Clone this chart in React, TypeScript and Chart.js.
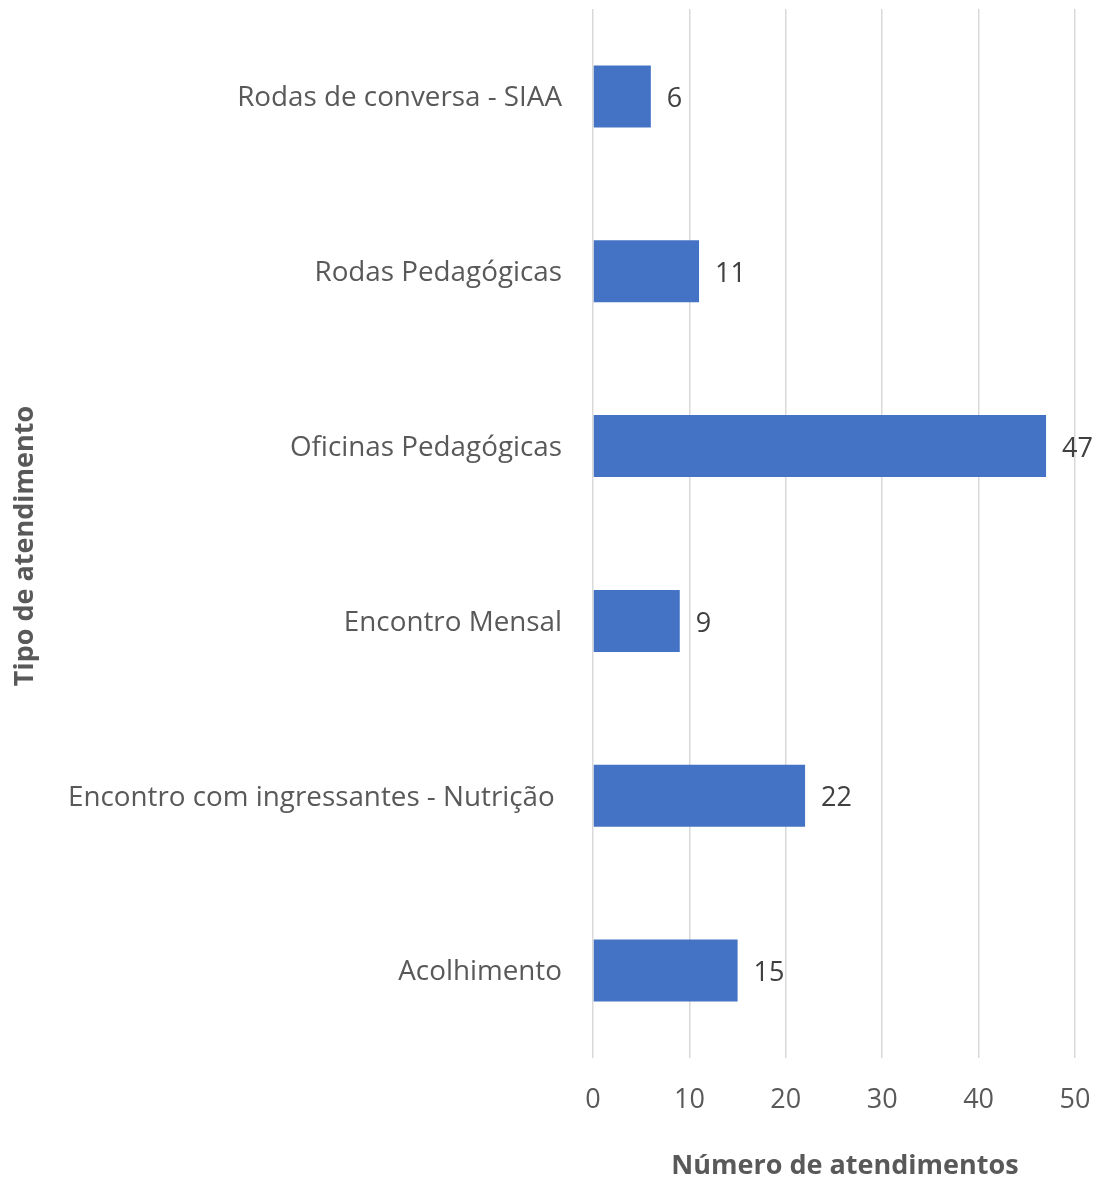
import React, { useEffect, useRef } from "react";
import { Chart, registerables } from "chart.js";

Chart.register(...registerables);

const categories = [
  "Rodas de conversa - SIAA",
  "Rodas Pedagógicas",
  "Oficinas Pedagógicas",
  "Encontro Mensal",
  "Encontro com ingressantes - Nutrição ",
  "Acolhimento",
];
const values = [6, 11, 47, 9, 22, 15];
const xTicks = [0, 10, 20, 30, 40, 50];
const xTitle = "Número de atendimentos";
const yTitle = "Tipo de atendimento";

const FONT = "'Open Sans', 'Noto Sans', sans-serif";

const valueLabels = {
  id: "valueLabels",
  afterDatasetsDraw(chart: any) {
    const ctx = chart.ctx;
    const meta = chart.getDatasetMeta(0);
    ctx.save();
    ctx.font = `27px ${FONT}`;
    ctx.fillStyle = "#404040";
    ctx.textAlign = "left";
    ctx.textBaseline = "middle";
    meta.data.forEach((el: any, i: number) => {
      ctx.fillText(String(values[i]), el.x + 16, el.y + 3);
    });
    ctx.restore();
  },
};

const axisTitles = {
  id: "axisTitles",
  afterDraw(chart: any) {
    const ctx = chart.ctx;
    ctx.save();
    ctx.font = `bold 27px ${FONT}`;
    ctx.fillStyle = "#595959";
    ctx.textAlign = "center";
    ctx.textBaseline = "middle";
    ctx.fillText(xTitle, 845, 1166);
    ctx.translate(25, 546);
    ctx.rotate(-Math.PI / 2);
    ctx.fillText(yTitle, 0, 0);
    ctx.restore();
  },
};

export default function App() {
  const ref = useRef<HTMLCanvasElement | null>(null);
  useEffect(() => {
    if (!ref.current) return;
    const chart = new Chart(ref.current, {
      type: "bar",
      data: {
        labels: categories,
        datasets: [
          {
            data: values,
            backgroundColor: "#4472C4",
            borderWidth: 0,
            categoryPercentage: 1,
            barPercentage: 0.355,
          },
        ],
      },
      options: {
        indexAxis: "y",
        animation: false,
        responsive: false,
        maintainAspectRatio: false,
        layout: { padding: { top: 9, right: 24, left: 0, bottom: 0 } },
        plugins: { legend: { display: false }, tooltip: { enabled: false } },
        scales: {
          x: {
            min: 0,
            max: 50,
            afterBuildTicks: (axis: any) => {
              axis.ticks = xTicks.map((v) => ({ value: v }));
            },
            afterFit: (axis: any) => {
              axis.height = 126;
              axis.paddingLeft = 0;
              axis.paddingRight = 0;
            },
            grid: { color: "#d9d9d9", lineWidth: 1.5, drawTicks: false },
            border: { display: false },
            ticks: {
              color: "#595959",
              font: { family: FONT, size: 27 },
              padding: 26,
            },
            title: { display: false },
          },
          y: {
            afterFit: (axis: any) => {
              axis.width = 593;
              axis.paddingTop = 0;
              axis.paddingBottom = 0;
            },
            grid: { display: false, drawTicks: false },
            border: { display: false },
            ticks: {
              color: "#595959",
              font: { family: FONT, size: 27.8 },
              padding: 31,
              labelOffset: 2,
            },
            title: { display: false },
          },
        },
      },
      plugins: [valueLabels, axisTitles],
    });
    return () => chart.destroy();
  }, []);
  return (
    <div style={{ position: "fixed", left: 0, top: 0, width: 1099, height: 1184, background: "#fff" }}>
      <canvas ref={ref} width={1099} height={1184} style={{ width: 1099, height: 1184 }} />
    </div>
  );
}
